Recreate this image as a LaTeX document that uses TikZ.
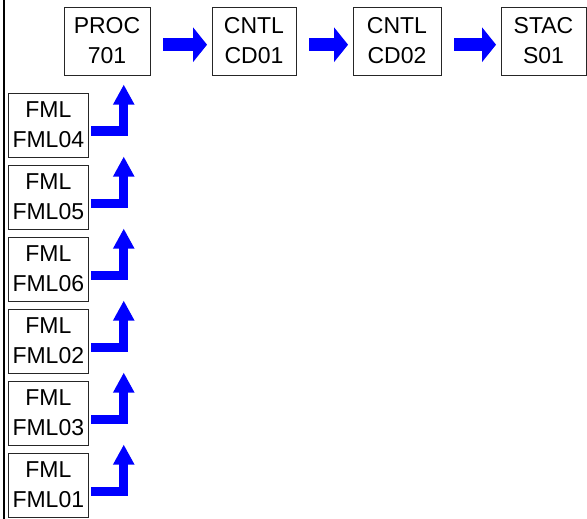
\documentclass[tikz,border=0pt]{standalone}
\usepackage{fontspec}
\setmainfont{Liberation Sans}
\usetikzlibrary{arrows.meta,calc}
\definecolor{arrowblue}{RGB}{0,0,255}
\tikzset{
  topbox/.style={draw=black!85, line width=0.9pt, minimum height=68pt, inner sep=0pt, align=center, font=\fontsize{23}{30}\selectfont},
  fmlbox/.style={draw=black!85, line width=0.9pt, minimum width=80pt, minimum height=64pt, inner sep=0pt, align=center, font=\fontsize{23}{30}\selectfont},
  flowarrow/.style={draw=arrowblue, line width=12.7pt, -{Triangle[length=14pt,width=34pt]}},
  elbowarrow/.style={draw=arrowblue, line width=9pt, line join=miter, -{Triangle[length=20pt,width=20pt]}},
}
\begin{document}
\begin{tikzpicture}[x=1pt,y=-1pt]
\useasboundingbox (0,0) rectangle (587,519);
\draw[line width=1.3pt] (4,0) -- (4,519);
\node[topbox, minimum width=86pt] (proc) at (107,41) {PROC\\701};
\node[topbox, minimum width=84pt] (cd01) at (254,41) {CNTL\\CD01};
\node[topbox, minimum width=88pt] (cd02) at (397,41) {CNTL\\CD02};
\node[topbox, minimum width=85pt] (s01) at (543.5,41) {STAC\\S01};
\node[fmlbox] (fml04) at (48.3,125) {FML\\FML04};
\node[fmlbox] (fml05) at (48.3,197) {FML\\FML05};
\node[fmlbox] (fml06) at (48.3,269) {FML\\FML06};
\node[fmlbox] (fml02) at (48.3,341) {FML\\FML02};
\node[fmlbox] (fml03) at (48.3,413) {FML\\FML03};
\node[fmlbox] (fml01) at (48.3,485) {FML\\FML01};
\foreach \a/\b in {proc/cd01, cd01/cd02, cd02/s01}{
  \draw[flowarrow] ($(\a.east)+(13,3.7)$) -- ($(\b.west)+(-4.5,3.7)$);
}
\foreach \f in {fml04,fml05,fml06,fml02,fml03,fml01}{
  \draw[elbowarrow] ($(\f.east)+(2.7,6)$) -| ($(\f.north east)+(35,-8)$);
}
\end{tikzpicture}
\end{document}
